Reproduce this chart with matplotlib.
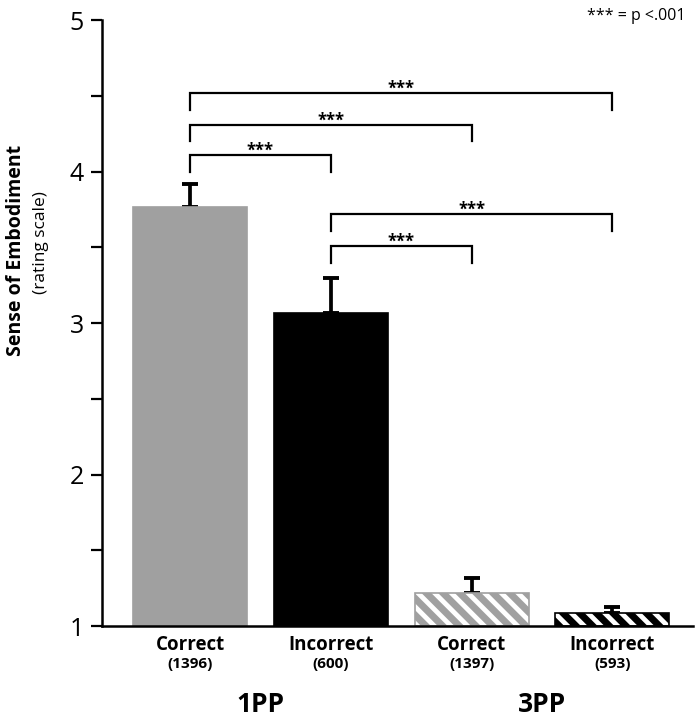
import matplotlib
matplotlib.use("Agg")
import matplotlib.pyplot as plt

# data
conditions = ['Correct', 'Incorrect', 'Correct', 'Incorrect']
counts = ['(1396)', '(600)', '(1397)', '(593)']
groups = ['1PP', '3PP']
means = [3.77, 3.07, 1.22, 1.09]
errs = [0.15, 0.23, 0.10, 0.04]
# significance brackets: (from bar, to bar, height)
brackets = [(0, 3, 4.52), (0, 2, 4.31), (0, 1, 4.11), (1, 3, 3.72), (1, 2, 3.51)]
sig_label = '***'

plt.rcParams['font.family'] = ['Open Sans', 'DejaVu Sans']
plt.rcParams['hatch.linewidth'] = 5

face = ['#a0a0a0', 'black', 'white', 'white']
edge = ['#a0a0a0', 'black', '#a0a0a0', 'black']
hatch = [None, None, '\\\\', '\\\\']
x = list(range(len(means)))

fig = plt.figure(figsize=(6.99, 7.19), dpi=100)
ax = fig.add_axes([0.146, 0.129, 0.845, 0.843])

for i in x:
    ax.bar(i, means[i] - 1, bottom=1, width=0.81, color=face[i], edgecolor=edge[i],
           hatch=hatch[i], linewidth=1.2, zorder=2)
ax.errorbar(x, means, yerr=[[0] * len(errs), errs], fmt='none', ecolor='black',
            elinewidth=2.7, capsize=6, capthick=2.8, zorder=1)

for a, b, h in brackets:
    ax.plot([a, a, b, b], [h - 0.11, h, h, h - 0.11], color='black', lw=1.6,
            solid_joinstyle='miter', clip_on=False)
    ax.text((a + b) / 2, h - 0.005, sig_label, ha='center', va='baseline',
            fontsize=12, fontweight='bold')

ax.set_xlim(-0.625, 3.57)
ax.set_ylim(1, 5)
ax.set_yticks([1, 2, 3, 4, 5])
ax.set_yticks([1.5, 2.5, 3.5, 4.5], minor=True)
ax.tick_params(axis='y', which='both', length=8, width=1.6, labelsize=18, pad=5)
ax.set_xticks([])
for s in ['top', 'right']:
    ax.spines[s].set_visible(False)
for s in ['left', 'bottom']:
    ax.spines[s].set_linewidth(1.8)

for i in x:
    ax.text(i, 0.94, conditions[i], ha='center', va='top', fontsize=13.5, fontweight='bold')
    ax.text(i, 0.80, counts[i], ha='center', va='top', fontsize=11, fontweight='bold')
ax.text(0.5, 0.57, groups[0], ha='center', va='top', fontsize=19, fontweight='bold')
ax.text(2.5, 0.57, groups[1], ha='center', va='top', fontsize=19, fontweight='bold')

fig.text(0.023, 0.652, 'Sense of Embodiment', rotation=90, ha='center', va='center',
         fontsize=14, fontweight='bold')
fig.text(0.059, 0.662, '(rating scale)', rotation=90, ha='center', va='center',
         fontsize=12.5)
fig.text(0.91, 0.978, '*** = p <.001', ha='center', va='center', fontsize=11.5)

fig.savefig('out.png', dpi=100)
